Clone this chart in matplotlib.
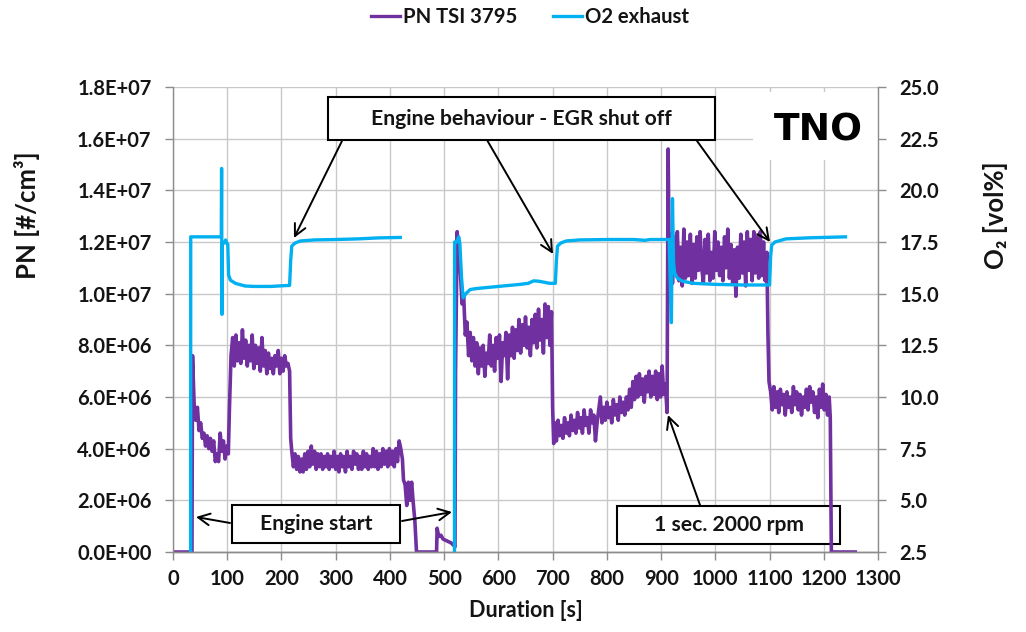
import numpy as np
import matplotlib
matplotlib.use('Agg')
import matplotlib.pyplot as plt
from matplotlib.patches import Rectangle
from matplotlib.lines import Line2D
from matplotlib.ticker import FuncFormatter

plt.rcParams['font.family'] = ['Lato', 'DejaVu Sans']
plt.rcParams['font.weight'] = 'bold'

# ---------------- data ----------------
# PN TSI 3795 in units of 1e6 #/cm3. Noisy blocks are sampled every 3 s.
STEP = 3
pn_start_t, pn_start = [0, 35], [0.0, 0.0]
pn_block1_t0 = 36
pn_block1 = [7.6, 5.7, 5.1, 5.6, 4.7, 5.0, 4.4, 4.6, 4.1, 4.5, 4.0, 4.4, 3.9, 4.3,
             3.5, 3.8, 3.5, 4.6, 3.9, 4.3, 3.6, 4.1, 3.8]
pn_rise1_t, pn_rise1 = [104], [5.5]
pn_block2_t0 = 107
pn_block2 = [7.6, 8.3, 7.2, 8.4, 7.4, 8.1, 7.3, 8.6, 7.5, 8.2, 7.2, 8.0, 7.4, 8.4,
             7.1, 8.0, 7.3, 7.9, 7.0, 8.3, 7.2, 7.8, 6.9, 7.7, 7.1, 7.5, 6.9, 7.6,
             7.2, 7.8, 6.9, 7.5, 7.0, 7.6, 7.2, 7.3]
pn_drop2_t, pn_drop2 = [215, 217], [7.0, 4.4]
pn_block3_t0 = 219
pn_block3 = [3.9, 3.3, 3.8, 3.2, 3.7, 3.1, 3.6, 3.1, 3.8, 3.2, 3.9, 3.3, 4.1, 3.4,
             3.9, 3.2, 3.8, 3.3, 3.8, 3.2, 3.7, 3.3, 3.8, 3.2, 3.7, 3.3, 3.9, 3.2,
             3.7, 3.1, 3.8, 3.3, 3.7, 3.1, 3.9, 3.3, 3.7, 3.2, 3.9, 3.4, 3.8, 3.2,
             3.7, 3.2, 3.9, 3.3, 3.8, 3.2, 3.7, 3.3, 4.0, 3.3, 3.9, 3.2, 3.8, 3.3,
             4.0, 3.4, 3.9, 3.3, 4.0, 3.4, 3.9, 3.3, 4.0, 3.5, 4.3]
pn_decay_t = [420, 423, 425, 428, 431, 434, 437, 440, 443, 446, 449, 486, 487, 490,
              494, 498, 503, 508, 513, 518, 520]
pn_decay = [4.0, 3.6, 2.8, 2.6, 1.8, 2.7, 2.0, 2.7, 1.9, 1.2, 0.0, 0.0, 0.92, 0.6,
            0.65, 0.5, 0.45, 0.4, 0.35, 0.25, 0.2]
pn_block4_t0 = 521
pn_block4 = [7.0, 12.4, 11.2, 10.8, 9.6, 9.9, 8.4, 8.9, 7.6, 8.5, 7.4, 8.3, 7.2, 8.1,
             6.9, 7.9, 7.2, 8.0, 6.8, 7.7, 7.3, 8.4, 7.2, 8.0, 7.0, 8.3, 7.5, 8.4,
             6.6, 8.1, 7.6, 8.5, 6.7, 8.4, 7.6, 8.7, 7.5, 8.6, 7.8, 9.0, 7.7, 8.8,
             8.0, 9.1, 7.9, 8.7, 7.6, 9.0, 8.1, 9.2, 7.9, 9.4, 8.2, 9.0, 7.7, 9.6,
             8.3, 9.5, 8.0, 9.3]
pn_drop4_t, pn_drop4 = [700, 702], [5.6, 4.2]
pn_block5_t0 = 704
pn_block5 = [5.0, 4.3, 5.1, 4.5, 4.9, 4.4, 5.2, 4.6, 5.0, 4.5, 5.3, 4.7, 5.1, 4.6,
             5.4, 4.8, 5.2, 4.6, 5.5, 4.9, 5.2, 4.6, 5.5, 5.0, 5.3, 4.3, 5.0, 5.5,
             6.0, 5.0, 5.6, 5.1, 5.8, 5.2, 5.6, 5.0, 5.9, 5.3, 5.7, 5.1, 6.0, 5.4,
             5.8, 5.3, 6.0, 5.5, 6.3, 5.6, 6.6, 5.9, 6.8, 6.0, 6.9, 6.1, 6.7, 5.8,
             6.8, 6.2, 7.0, 6.0, 6.8, 6.1, 7.0, 5.9, 6.9, 6.0, 7.2, 6.1]
pn_spike_t, pn_spike = [908, 911, 913, 915], [6.5, 5.4, 15.6, 11.2]
pn_block6_t0 = 918
pn_block6 = [12.3, 10.4, 12.2, 10.8, 12.4, 10.5, 11.8, 10.3, 12.5, 10.6, 12.0, 10.7,
             12.3, 10.4, 11.9, 10.6, 12.2, 10.9, 12.4, 11.0, 10.4, 12.1, 10.8, 12.3,
             10.5, 11.6, 10.6, 12.4, 10.9, 12.0, 10.7, 11.8, 10.5, 12.2, 11.0, 12.5,
             10.6, 11.9, 10.4, 11.7, 9.9, 11.8, 10.6, 12.3, 10.8, 12.0, 10.3, 12.4,
             10.9, 12.1, 10.5, 12.4, 10.8, 12.2, 10.6, 12.4, 10.7, 12.0, 10.5]
pn_drop6_t, pn_drop6 = [1095, 1097, 1099], [11.6, 8.5, 6.6]
pn_block7_t0 = 1102
pn_block7 = [6.2, 5.5, 6.4, 5.6, 6.2, 5.4, 6.3, 5.7, 6.1, 5.3, 6.2, 5.6, 6.0, 5.4,
             6.4, 5.7, 6.2, 5.5, 6.1, 5.3, 6.0, 5.6, 6.3, 5.5, 6.4, 5.8, 6.2, 5.4,
             6.0, 5.2, 6.3, 5.6, 6.5, 5.5, 6.1, 5.3, 6.0]
pn_end_t, pn_end = [1212, 1214, 1258], [5.2, 0.0, 0.0]

# O2 exhaust [vol%]
o2_run1_t = [32.5, 32.7, 89, 89.6, 90.3, 91, 95, 97, 99, 101, 102.5, 106, 115, 133,
             150, 180, 200, 215, 217, 219, 225, 235, 260, 300, 340, 380, 419]
o2_run1 = [0.0, 17.75, 17.75, 21.06, 14.0, 17.45, 17.45, 17.6, 17.45, 17.4, 15.9,
           15.65, 15.5, 15.37, 15.35, 15.35, 15.38, 15.4, 16.6, 17.3, 17.45, 17.55,
           17.6, 17.62, 17.65, 17.7, 17.72]
o2_run2_t = [519, 519.3, 523, 527, 529, 532, 535, 540, 548, 560, 580, 600, 620, 640,
             655, 665, 675, 685, 695, 705, 707, 709, 715, 725, 750, 800, 850, 870,
             880, 915, 919, 921, 923, 925, 930, 940, 960, 1000, 1050, 1100, 1102,
             1104, 1110, 1130, 1170, 1240]
o2_run2 = [0.0, 17.5, 17.5, 17.75, 17.4, 15.8, 14.8, 15.0, 15.2, 15.25, 15.3, 15.35,
           15.4, 15.45, 15.5, 15.62, 15.6, 15.55, 15.5, 15.5, 16.6, 17.3, 17.45,
           17.55, 17.6, 17.62, 17.62, 17.58, 17.62, 17.62, 13.6, 19.6, 16.5, 16.0,
           15.75, 15.6, 15.5, 15.45, 15.42, 15.42, 16.8, 17.35, 17.5, 17.65, 17.7,
           17.75]

x_ticks = list(range(0, 1301, 100))
pn_ticks = [0, 2e6, 4e6, 6e6, 8e6, 10e6, 12e6, 14e6, 16e6, 18e6]
o2_ticks = [2.5, 5.0, 7.5, 10.0, 12.5, 15.0, 17.5, 20.0, 22.5, 25.0]

# ---------------- assemble series ----------------
def block(t0, vals):
    return [t0 + STEP * i for i in range(len(vals))], vals

parts = [
    (pn_start_t, pn_start), block(pn_block1_t0, pn_block1), (pn_rise1_t, pn_rise1),
    block(pn_block2_t0, pn_block2), (pn_drop2_t, pn_drop2),
    block(pn_block3_t0, pn_block3), (pn_decay_t, pn_decay),
    block(pn_block4_t0, pn_block4), (pn_drop4_t, pn_drop4),
    block(pn_block5_t0, pn_block5), (pn_spike_t, pn_spike),
    block(pn_block6_t0, pn_block6), (pn_drop6_t, pn_drop6),
    block(pn_block7_t0, pn_block7), (pn_end_t, pn_end),
]
pn_t = np.concatenate([np.asarray(p[0], float) for p in parts])
pn_v = np.concatenate([np.asarray(p[1], float) for p in parts]) * 1e6

o2_t = np.array(o2_run1_t + [np.nan] + o2_run2_t, float)
o2_v = np.array(o2_run1 + [np.nan] + o2_run2, float)

# ---------------- figure ----------------
PURPLE = '#7030A0'
BLUE = '#00B0F0'
GRID = '#c8c8c8'
AXC = '#8c8c8c'
TXT = '#141414'

fig = plt.figure(figsize=(10.26, 6.32), dpi=100)
ax = fig.add_axes([0.16862, 0.12658, 0.68713, 0.73576])
ax.set_axisbelow(True)
ax.plot(pn_t, pn_v, color=PURPLE, lw=2.6, zorder=2)
ax.set_xlim(0, 1300)
ax.set_ylim(0, 1.8e7)
ax.set_xticks(x_ticks)
ax.set_yticks(pn_ticks)
ax.yaxis.set_major_formatter(FuncFormatter(lambda v, _: f"{v:.1E}"))
ax.grid(True, color=GRID, lw=1.0)

ax2 = ax.twinx()
ax2.plot(o2_t, o2_v, color=BLUE, lw=2.4, zorder=2)
ax2.set_ylim(2.5, 25.0)
ax2.set_yticks(o2_ticks)
ax2.yaxis.set_major_formatter(FuncFormatter(lambda v, _: f"{v:.1f}"))

for a in (ax, ax2):
    for s in a.spines.values():
        s.set_color(AXC)
        s.set_linewidth(1.0)
    a.spines['top'].set_visible(False)
    a.tick_params(axis='both', direction='out', length=5.5, width=1.0, color=AXC,
                  labelsize=14.5, labelcolor=TXT, pad=10)
ax.spines['right'].set_visible(False)
ax2.spines['left'].set_visible(False)
ax.tick_params(axis='x', pad=7)

ax.set_xlabel('Duration [s]', fontsize=15.5, fontweight='bold', color=TXT, va='center')
ax.xaxis.set_label_coords(0.5, -0.125)
ax.set_ylabel('PN [#/cm³]', fontsize=18.5, fontweight='bold', color=TXT, va='center')
ax.yaxis.set_label_coords(-0.207, 0.725)
ax2.set_ylabel('O₂ [vol%]', fontsize=18.5, fontweight='bold', color=TXT, va='center')
ax2.yaxis.set_label_coords(1.167, 0.725)

# TNO logo on white patch
ax.add_patch(Rectangle((0.8227, 0.843), 0.18, 0.146, transform=ax.transAxes,
                       facecolor='white', edgecolor='none', zorder=1, clip_on=False))
ax.text(0.9149, 0.907, 'TNO', transform=ax.transAxes, ha='center', va='center',
        fontsize=27, fontweight='heavy', family='DejaVu Sans', color='black', zorder=1.1)

# annotation boxes
def box(x0, x1, y0, y1, text, tx, ty):
    ax.add_patch(Rectangle((x0, y0), x1 - x0, y1 - y0, transform=ax.transAxes,
                           facecolor='white', edgecolor='black', lw=1.5, zorder=1.5,
                           clip_on=False))
    ax.text(tx, ty, text, transform=ax.transAxes, ha='center', va='center',
            fontsize=15.2, fontweight='bold', color=TXT, zorder=1.6)

def arrow(x0, y0, x1, y1):
    ax.annotate('', xy=(x1, y1), xytext=(x0, y0), xycoords='axes fraction',
                textcoords='axes fraction', zorder=3,
                arrowprops=dict(arrowstyle='->,head_length=0.7,head_width=0.35',
                                lw=1.4, color='black', shrinkA=0, shrinkB=0,
                                mutation_scale=12))

box(0.2199, 0.7688, 0.886, 0.978, 'Engine behaviour - EGR shut off', 0.4943, 0.932)
arrow(0.2397, 0.8839, 0.1716, 0.6753)
arrow(0.4454, 0.886, 0.539, 0.6409)
arrow(0.7433, 0.8839, 0.8468, 0.6667)

box(0.0837, 0.322, 0.0194, 0.1011, 'Engine start', 0.2028, 0.0602)
arrow(0.0809, 0.0624, 0.0326, 0.0753)
arrow(0.3248, 0.0667, 0.3957, 0.086)

box(0.6298, 0.9461, 0.0172, 0.0989, '1 sec. 2000 rpm', 0.7887, 0.058)
arrow(0.7475, 0.1011, 0.7021, 0.2946)

# legend
handles = [Line2D([], [], color=PURPLE, lw=2.4), Line2D([], [], color=BLUE, lw=2.4)]
fig.legend(handles, ['PN TSI 3795', 'O2 exhaust'], loc='center',
           bbox_to_anchor=(0.5166, 0.973), ncol=2, frameon=False,
           prop={'size': 14.6, 'weight': 'bold'}, handlelength=1.4,
           handletextpad=0.15, columnspacing=1.8, labelcolor=TXT)

fig.savefig('out.png', dpi=100)
